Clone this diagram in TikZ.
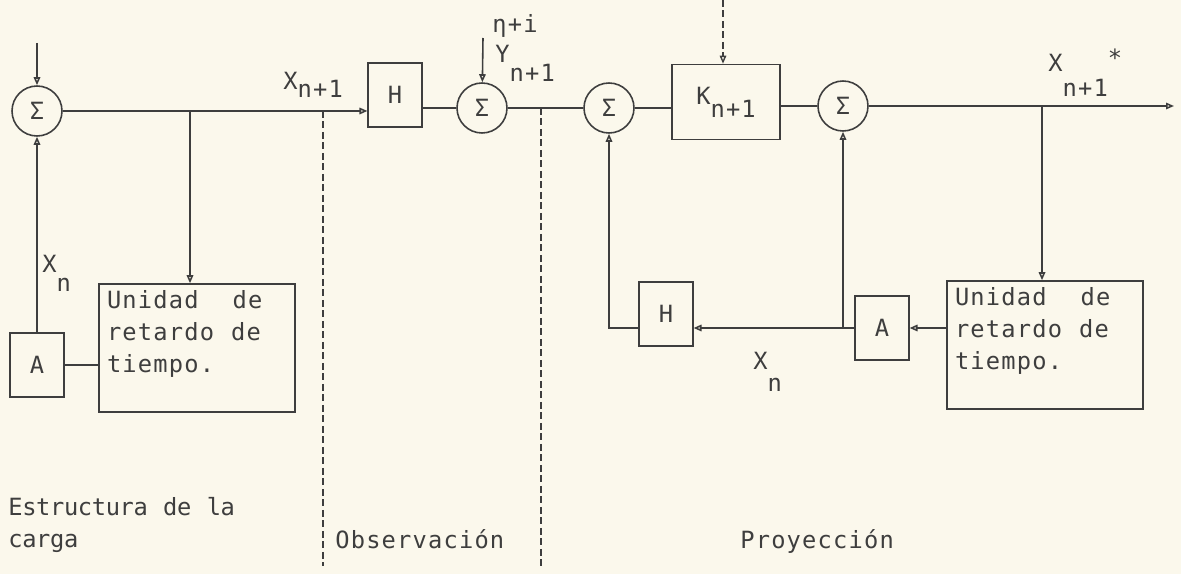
\documentclass[tikz,border=0pt]{standalone}
\usepackage{fontspec}
\setmainfont{DejaVu Sans Mono}[LetterSpace=5,WordSpace=1.1]
\usepackage{tikz}
\usetikzlibrary{arrows.meta,positioning,calc}
\definecolor{PaperCream}{RGB}{251,248,236}
\definecolor{InkGray}{RGB}{62,62,62}
\newcommand{\lowsub}[3][0.3cm]{#2\raisebox{-#1}{#3}}
\newcommand{\delaytext}{\parbox[c][2.3cm][t]{3.6cm}{Unidad~~de\\retardo de\\tiempo.}}
\tikzset{
    typed/.style={font=\fontsize{13.5}{18.2}\selectfont, text=InkGray},
    narrowtyped/.style={font=\fontsize{13.5}{18.2}\selectfont\addfontfeatures{LetterSpace=-1.5}},
    sumnode/.style={draw=InkGray, line width=0.9pt, circle, minimum size=1cm, inner sep=0pt},
    blk/.style={draw=InkGray, line width=0.9pt, inner sep=0pt, minimum width=1.07cm, minimum height=1.27cm},
    kbox/.style={draw=InkGray, line width=0.9pt, inner sep=0pt, minimum width=2.16cm, minimum height=1.5cm},
    delaybox/.style={draw=InkGray, line width=0.9pt, inner xsep=0.14cm, inner ysep=0.13cm, minimum width=3.92cm},
    lbl/.style={inner sep=0pt, anchor=base west},
    arr/.style={-{Triangle[open,length=1.6mm,width=1.3mm]}, line width=0.9pt, draw=InkGray},
    plain/.style={line width=0.9pt, draw=InkGray},
    dashline/.style={dash pattern=on 0.14cm off 0.07cm, line width=0.8pt, draw=InkGray},
    dasharr/.style={dashline, -{Triangle[open,length=1.6mm,width=1.3mm]}},
}
\begin{document}
\begin{tikzpicture}[x=0.02cm, y=-0.02cm, typed]
\fill[PaperCream] (0,0) rectangle (1181,574);
\useasboundingbox (0,0) rectangle (1181,574);

\node[sumnode] (sumA) at (37,111) {Σ};
\node[blk] (aL) at (37,365) {A};
\node[delaybox] (delL) at (197,348) {\delaytext};
\node[blk] (hObs) at (395,95) {H};
\node[sumnode] (sumB) at (482,108) {Σ};
\node[sumnode] (sumC) at (609,108) {Σ};
\node[kbox] (gain) at (726,102) {\lowsub[0.26cm]{K}{n+1}};
\node[sumnode] (sumD) at (843,106) {Σ};
\node[delaybox] (delR) at (1045,345) {\delaytext};
\node[blk] (aR) at (882,328) {A};
\node[blk] (hProj) at (666,314) {H};

\coordinate (inA) at (37,43);
\coordinate (tapL) at (190,111);
\coordinate (inB) at (483,38);
\coordinate (inK) at (723,0);
\coordinate (tapR) at (1042,106);
\coordinate (tapA) at (843,328);
\coordinate (outR) at (1174,106);
\coordinate (cutA) at (323,111);
\coordinate (cutAend) at (323,566);
\coordinate (cutB) at (541,108);
\coordinate (cutBend) at (541,566);

\draw[arr] (inA) -- (sumA);
\draw[arr] (sumA) -- (sumA -| hObs.west);
\draw[arr] (tapL) -- (tapL |- delL.north);
\draw[plain] (aL) -- (aL -| delL.west);
\draw[arr] (aL) -- (sumA);
\draw[plain] (sumB -| hObs.east) -- (sumB);
\draw[arr] (inB) -- (sumB);
\draw[plain] (sumB) -- (sumC);
\draw[plain] (sumC) -- (sumC -| gain.west);
\draw[dasharr] (inK) -- (inK |- gain.north);
\draw[plain] (sumD -| gain.east) -- (sumD);
\draw[arr] (sumD) -- (outR);
\draw[arr] (tapR) -- (tapR |- delR.north);
\draw[arr] (aR -| delR.west) -- (aR);
\draw[arr] (aR) -- (aR -| hProj.east);
\draw[arr] (hProj.west |- aR) -| (sumC);
\draw[arr] (tapA) -- (sumD);
\draw[dashline] (cutA) -- (cutAend);
\draw[dashline] (cutB) -- (cutBend);

\node[lbl] (xNext) at (283,90) {\lowsub[0.16cm]{X}{n+1}};
\node[lbl] (xPrevL) at (42,273) {\lowsub[0.38cm]{X}{n}};
\node[lbl] (noise) at (492,33) {η+i};
\node[lbl] (yObs) at (495,63) {\lowsub[0.38cm]{Y}{n+1}};
\node[lbl] (xEst) at (1048,72) {\lowsub[0.5cm]{X}{n+1}\raisebox{0.1cm}{*}};
\node[lbl] (xPrevR) at (753,370) {\lowsub[0.44cm]{X}{n}};
\node[narrowtyped, inner sep=0pt, anchor=north west, align=left] (secLoad) at (8,497) {Estructura de la\\carga};
\node[lbl] (secObs) at (335,548) {Observación};
\node[lbl] (secProj) at (740,548) {Proyección};
\end{tikzpicture}
\end{document}
